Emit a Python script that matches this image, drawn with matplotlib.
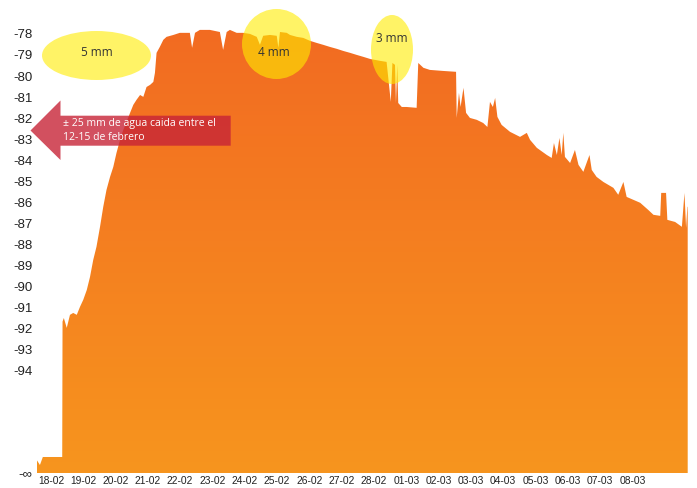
import matplotlib
matplotlib.use("Agg")
import matplotlib.pyplot as plt
import numpy as np
from matplotlib.patches import Polygon, Ellipse
from matplotlib.transforms import Affine2D
from matplotlib.colors import LinearSegmentedColormap

# ---- data: x in days from the 18-02 label, y = level ----
days = [-0.44, -0.34, -0.25, 0.35, 0.36, 0.40, 0.49, 0.59, 0.69, 0.80, 0.90, 1.00, 1.11, 1.21,
        1.31, 1.41, 1.52, 1.62, 1.72, 1.83, 1.93, 2.03, 2.14, 2.24, 2.34, 2.45, 2.55, 2.65,
        2.76, 2.86, 2.96, 3.07, 3.17, 3.22, 3.27, 3.37, 3.48, 3.58, 3.79, 3.99, 4.30, 4.37,
        4.46, 4.61, 4.92, 5.23, 5.33, 5.44, 5.54, 5.75, 5.95, 6.16, 6.37, 6.47, 6.57, 6.78,
        6.99, 7.04, 7.09, 7.30, 7.40, 7.61, 7.81, 8.02, 8.23, 8.43, 8.64, 8.85, 9.05, 9.26,
        9.47, 9.67, 9.88, 10.19, 10.39, 10.52, 10.57, 10.65, 10.68, 10.72, 10.75, 10.86, 11.01,
        11.32, 11.37, 11.53, 11.73, 12.15, 12.54, 12.56, 12.63, 12.68, 12.77, 12.85, 12.97,
        13.18, 13.38, 13.51, 13.59, 13.68, 13.75, 13.82, 13.95, 14.21, 14.52, 14.73, 14.83,
        15.04, 15.35, 15.50, 15.57, 15.66, 15.74, 15.81, 15.86, 15.91, 16.07, 16.22, 16.33,
        16.48, 16.67, 16.74, 16.89, 17.10, 17.41, 17.56, 17.72, 17.82, 18.03, 18.24, 18.49,
        18.65, 18.86, 18.89, 19.04, 19.08, 19.32, 19.53, 19.61, 19.66, 19.70, 19.71]
level = [-98.23, -98.47, -98.09, -98.09, -91.66, -91.49, -91.96, -91.34, -91.25, -91.34, -90.96,
         -90.63, -90.16, -89.54, -88.73, -88.11, -87.16, -86.21, -85.41, -84.79, -84.32, -83.65,
         -83.03, -82.56, -82.18, -81.75, -81.37, -81.13, -80.90, -80.99, -80.52, -80.42, -80.28,
         -79.85, -78.90, -78.62, -78.28, -78.14, -78.05, -77.95, -77.95, -78.66, -77.95, -77.81,
         -77.81, -77.91, -78.76, -77.91, -77.81, -77.95, -77.95, -78.00, -78.14, -78.52, -78.09,
         -78.05, -78.09, -78.66, -77.91, -77.95, -78.05, -78.14, -78.19, -78.33, -78.43, -78.52,
         -78.62, -78.71, -78.81, -78.90, -79.00, -79.09, -79.19, -79.28, -79.33, -81.23, -79.38,
         -79.47, -81.28, -79.47, -81.28, -81.47, -81.47, -81.51, -79.38, -79.61, -79.71, -79.76,
         -79.80, -81.99, -80.80, -81.47, -80.56, -81.75, -81.99, -82.08, -82.23, -82.42, -81.23,
         -81.47, -81.04, -81.94, -82.32, -82.65, -82.89, -82.70, -83.03, -83.41, -83.75, -83.89,
         -83.18, -83.75, -82.94, -83.75, -82.70, -83.84, -84.13, -83.51, -84.22, -84.55, -83.75,
         -84.46, -84.79, -85.03, -85.31, -85.64, -85.03, -85.74, -85.88, -86.02, -86.36, -86.59,
         -86.64, -85.55, -85.55, -86.83, -86.93, -87.16, -85.55, -87.21, -86.21, -86.21]

xtick_labels = ["18-02", "19-02", "20-02", "21-02", "22-02", "23-02", "24-02", "25-02", "26-02",
                "27-02", "28-02", "01-03", "02-03", "03-03", "04-03", "05-03", "06-03", "07-03",
                "08-03"]
ytick_values = [-78, -79, -80, -81, -82, -83, -84, -85, -86, -87, -88, -89, -90, -91, -92, -93, -94]
y_floor = -98.85

W, H = 697, 488
fig = plt.figure(figsize=(W / 100, H / 100), dpi=100)
ax = fig.add_axes([36.7 / W, 1 - 473 / H, (687.7 - 36.7) / W, (473 - 20) / H])
ax.set_xlim(-0.44, 19.71)
ax.set_ylim(y_floor, -77.34)

x = np.array(days)
y = np.array(level)
verts = [(x[0], y_floor)] + list(zip(x, y)) + [(x[-1], y_floor)]
poly = Polygon(verts, closed=True, facecolor="none", edgecolor="none")
ax.add_patch(poly)
cmap = LinearSegmentedColormap.from_list("g", ["#F7951E", "#F26A22"])
grad = np.linspace(0, 1, 256).reshape(-1, 1)
im = ax.imshow(grad, cmap=cmap, origin="lower", aspect="auto",
               extent=[-0.44, 19.71, y_floor, -77.34], zorder=1)
im.set_clip_path(poly)

for s in ax.spines.values():
    s.set_visible(False)
ax.set_xticks(range(len(xtick_labels)))
ax.set_xticklabels(xtick_labels, fontsize=7.4, family="Liberation Sans", color="#222222")
ax.set_yticks(ytick_values + [y_floor])
ax.set_yticklabels([str(v) for v in ytick_values] + ["-∞"], fontsize=9.5,
                   family="Liberation Sans", color="#222222")
ax.tick_params(length=0, pad=3)
ax.tick_params(axis="x", pad=2)

# pixel-coordinate transform for annotations
pt = Affine2D().scale(1 / W, -1 / H).translate(0, 1) + fig.transFigure

ell_kw = dict(facecolor="#FFEC00", alpha=0.6, edgecolor="none", transform=pt, zorder=3)
fig.patches.append(Ellipse((96.5, 55.5), 109, 49, **ell_kw))
fig.patches.append(Ellipse((276.5, 44), 69, 70, **ell_kw))
fig.patches.append(Ellipse((392, 49.5), 42, 69, **ell_kw))
tkw = dict(transform=pt, ha="center", va="center", fontsize=8.5, family="Open Sans",
           color="#333333", zorder=4)
fig.text(97, 52, "5 mm", **tkw)
fig.text(274, 52, "4 mm", **tkw)
fig.text(392, 38, "3 mm", **tkw)

arrow = Polygon([(30.5, 130.5), (60.5, 100.5), (60.5, 115.7), (230.7, 115.7), (230.7, 145.7),
                 (60.5, 145.7), (60.5, 160)], closed=True, facecolor="#C72437", alpha=0.8,
                edgecolor="none", transform=pt, zorder=3)
fig.patches.append(arrow)
fig.text(63, 130.5, "± 25 mm de agua caida entre el\n12-15 de febrero", transform=pt,
         ha="left", va="center", fontsize=7.5, family="Open Sans", color="white",
         linespacing=1.3, zorder=4)

fig.savefig("out.png", dpi=100)
